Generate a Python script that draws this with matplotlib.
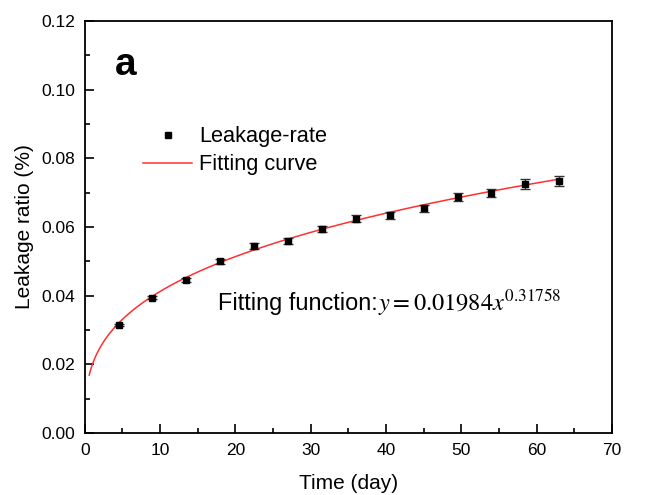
import numpy as np
import matplotlib
matplotlib.use("Agg")
import matplotlib.pyplot as plt
from matplotlib.ticker import MultipleLocator
from matplotlib.lines import Line2D

plt.rcParams['font.family'] = ['Liberation Sans', 'DejaVu Sans']
plt.rcParams['mathtext.fontset'] = 'stix'

# data
days = [4.5, 9, 13.5, 18, 22.5, 27, 31.5, 36, 40.5, 45, 49.5, 54, 58.5, 63]
leak = [0.03146, 0.03941, 0.04448, 0.05001, 0.05447, 0.05584, 0.05934,
        0.06243, 0.06341, 0.06545, 0.06874, 0.07000, 0.07262, 0.07349]
err = [0.0003, 0.0005, 0.0006, 0.0007, 0.0009, 0.0009, 0.0009,
       0.0010, 0.0010, 0.0010, 0.0012, 0.0012, 0.0015, 0.0015]
fit_a = 0.01984
fit_b = 0.31758
fit_start, fit_end = 0.6, 63

fig = plt.figure(figsize=(6.54, 4.95), dpi=100)
ax = fig.add_axes([0.1295, 0.1253, 0.8063, 0.8323])

xf = np.linspace(fit_start, fit_end, 400)
ax.plot(xf, fit_a * xf ** fit_b, color='#ff3030', lw=1.1, zorder=2)
ax.errorbar(days, leak, yerr=err, fmt='s', color='black', ms=4.5,
            ecolor='#333333', elinewidth=1.0, capsize=3.5, capthick=1.0,
            zorder=3)

ax.set_xlim(0, 70)
ax.set_ylim(0, 0.12)
ax.xaxis.set_major_locator(MultipleLocator(10))
ax.xaxis.set_minor_locator(MultipleLocator(5))
ax.yaxis.set_major_locator(MultipleLocator(0.02))
ax.yaxis.set_minor_locator(MultipleLocator(0.01))
ax.yaxis.set_major_formatter(matplotlib.ticker.FormatStrFormatter('%.2f'))
ax.tick_params(which='both', direction='in', top=False, right=False, width=1.2)
ax.tick_params(which='major', length=6.5, labelsize=12.5)
ax.tick_params(axis='x', which='major', pad=7)
ax.tick_params(axis='y', which='major', pad=7)
ax.tick_params(which='minor', length=3.5)
for s in ax.spines.values():
    s.set_linewidth(1.3)

ax.set_xlabel('Time (day)', fontsize=15, labelpad=12)
ax.set_ylabel('Leakage ratio (%)', fontsize=15, labelpad=5)

ax.text(0.058, 0.869, 'a', transform=ax.transAxes, fontsize=28, fontweight='bold',
        va='baseline', ha='left')

handles = [Line2D([], [], ls='none', marker='s', color='black', ms=4.5),
           Line2D([], [], color='#ff3030', lw=1.1)]
labels = ['Leakage-rate', 'Fitting curve']
ax.legend(handles, labels, loc='upper left',
          bbox_to_anchor=(0.1106, 0.744), frameon=False, fontsize=15.7,
          handlelength=2.25, handletextpad=0.32, labelspacing=0.31, borderpad=0,
          borderaxespad=0)

ax.text(17.7, 0.0357, 'Fitting function:', fontsize=16.9, va='baseline', ha='left')
ax.text(39.0, 0.0357, r'$y = 0.01984x^{0.31758}$', fontsize=17.6, va='baseline', ha='left')

fig.savefig('out.png', dpi=100)
